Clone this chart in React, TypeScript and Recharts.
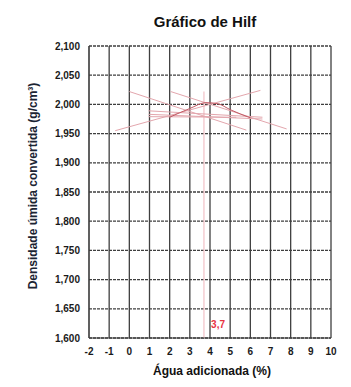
import {
  ComposedChart,
  CartesianGrid,
  Line,
  ReferenceDot,
  ReferenceLine,
  XAxis,
  YAxis
} from "recharts";

type Pt = { x: number; y: number };

const xTicks = [-2, -1, 0, 1, 2, 3, 4, 5, 6, 7, 8, 9, 10];
const yTicks = [1.6, 1.65, 1.7, 1.75, 1.8, 1.85, 1.9, 1.95, 2.0, 2.05, 2.1];

// trial lines (pink)
const lineA: Pt[] = [{ x: -0.7, y: 1.955 }, { x: 6.5, y: 2.024 }];
const lineB: Pt[] = [{ x: 0, y: 2.022 }, { x: 5.8, y: 1.956 }];
const lineC: Pt[] = [{ x: 2.05, y: 2.022 }, { x: 7.8, y: 1.958 }];
const lineD: Pt[] = [{ x: 0.95, y: 1.989 }, { x: 6.6, y: 1.978 }];
const lineE: Pt[] = [{ x: 0.95, y: 1.983 }, { x: 6.6, y: 1.975 }];
const lineF: Pt[] = [{ x: 0.95, y: 1.979 }, { x: 5.3, y: 1.978 }];

// Hilf curve
const hilfCurve: Pt[] = [
  { x: 2, y: 1.978 },
  { x: 3, y: 1.993 },
  { x: 3.8, y: 2.003 },
  { x: 4.4, y: 2.001 },
  { x: 5, y: 1.991 },
  { x: 6, y: 1.977 }
];

const peakX = 3.7;
const peakLabel = "3,7";

const trialLines = [lineA, lineB, lineC, lineD, lineE, lineF];

const fmtY = (v: number) => v.toFixed(3).replace(".", ",");
const tickStyle = { fill: "#1a1a1a", fontSize: 10, fontWeight: 700, fontFamily: "Liberation Sans" };

export default function App() {
  return (
    <div
      style={{
        position: "absolute",
        left: 0,
        top: 0,
        width: 351,
        height: 387,
        background: "#fff",
        fontFamily: "Liberation Sans, Arial, sans-serif"
      }}
    >
      <div
        style={{
          position: "absolute",
          left: 0,
          width: 410,
          top: 13,
          textAlign: "center",
          fontSize: 15,
          fontWeight: 700,
          color: "#111"
        }}
      >
        Gráfico de Hilf
      </div>
      <div
        style={{
          position: "absolute",
          left: 33,
          top: 186,
          transform: "translate(-50%, -50%) rotate(-90deg)",
          whiteSpace: "nowrap",
          fontSize: 12,
          fontWeight: 700,
          color: "#1b2433"
        }}
      >
        Densidade úmida convertida (g/cm³)
      </div>
      <div
        style={{
          position: "absolute",
          left: 0,
          width: 424,
          top: 364,
          textAlign: "center",
          fontSize: 12,
          fontWeight: 700,
          color: "#111"
        }}
      >
        Água adicionada (%)
      </div>
      <ComposedChart
        width={351}
        height={387}
        margin={{ top: 46, right: 20, bottom: 19, left: 39 }}
        style={{ position: "absolute", left: 0, top: 0 }}
      >
        <CartesianGrid horizontal={false} stroke="#3f3f3f" strokeWidth={1.3} />
        <CartesianGrid vertical={false} stroke="#3f3f3f" strokeWidth={1.3} strokeDasharray="3 1" />
        <XAxis
          type="number"
          dataKey="x"
          domain={[-2, 10]}
          ticks={xTicks}
          interval={0}
          tickLine={false}
          axisLine={{ stroke: "#3f3f3f" }}
          tick={tickStyle}
          tickMargin={4}
          height={30}
          allowDataOverflow
        />
        <YAxis
          type="number"
          dataKey="y"
          domain={[1.6, 2.1]}
          ticks={yTicks}
          interval={0}
          tickLine={false}
          axisLine={{ stroke: "#3f3f3f" }}
          tick={tickStyle}
          tickFormatter={fmtY}
          tickMargin={3}
          width={50}
          allowDataOverflow
        />
        <ReferenceLine
          segment={[
            { x: peakX, y: 2.022 },
            { x: peakX, y: 1.6 }
          ]}
          stroke="#f2c0c6"
          strokeWidth={1.2}
        />
        {trialLines.map((d, i) => (
          <Line
            key={i}
            data={d}
            dataKey="y"
            type="linear"
            stroke="#e3a6ad"
            strokeWidth={1}
            dot={false}
            activeDot={false}
            isAnimationActive={false}
          />
        ))}
        <Line
          data={hilfCurve}
          dataKey="y"
          type="monotone"
          stroke="#c25a64"
          strokeWidth={1}
          dot={false}
          activeDot={false}
          isAnimationActive={false}
        />
        <ReferenceDot
          x={4.4}
          y={1.624}
          r={0}
          stroke="none"
          label={{ value: peakLabel, fill: "#e8333f", fontSize: 10, fontWeight: 700, position: "center" }}
        />
      </ComposedChart>
    </div>
  );
}
